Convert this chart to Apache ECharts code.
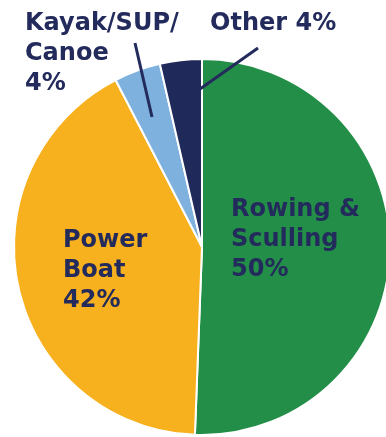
<!DOCTYPE html>
<html>
<head>
<meta charset="utf-8">
<script src="https://cdn.jsdelivr.net/npm/echarts@6/dist/echarts.min.js"></script>
<style>html,body{margin:0;padding:0;background:#fff}#c{width:386px;height:437px}</style>
</head>
<body>
<div id="c"></div>
<script>
const categories = ['Rowing & Sculling', 'Power Boat', 'Kayak/SUP/Canoe', 'Other'];
const values = [50.6, 41.8, 4.0, 3.6];
const labelTexts = ['Rowing &\nSculling\n50%', 'Power\nBoat\n42%', 'Kayak/SUP/\nCanoe\n4%', 'Other 4%'];
const colors = ['#238E47', '#F7B11E', '#7FB1DF', '#1F2A5A'];

// label anchor (top-left) and leader lines, layout only
const labelPos = [[231, 195], [63, 226], [25, 9], [210, 9]];
const leaderLines = [[[135, 43], [152, 117]], [[258, 48], [200, 89]]];

const chart = echarts.init(document.getElementById('c'), null, {renderer: 'canvas'});
chart.setOption({
  animation: false,
  series: [{
    type: 'pie',
    center: [202, 247],
    radius: 188,
    startAngle: 90,
    clockwise: true,
    avoidLabelOverlap: false,
    itemStyle: {borderColor: '#fff', borderWidth: 2},
    label: {
      show: true,
      position: 'inside',
      color: '#232B5C',
      fontFamily: 'DejaVu Sans',
      fontWeight: 'bold',
      fontSize: 24,
      lineHeight: 30,
      align: 'left',
      overflow: 'none',
      formatter: p => labelTexts[p.dataIndex]
    },
    labelLine: {show: false},
    labelLayout: function (params) {
      const i = params.dataIndex;
      return {x: labelPos[i][0], y: labelPos[i][1], align: 'left', verticalAlign: 'top'};
    },
    data: categories.map((n, i) => ({
      name: n, value: values[i], itemStyle: {color: colors[i]}
    }))
  }],
  graphic: leaderLines.map(l => ({
    type: 'line', z: 100,
    shape: {x1: l[0][0], y1: l[0][1], x2: l[1][0], y2: l[1][1]},
    style: {stroke: '#232B5C', lineWidth: 3}
  }))
});
</script>
</body>
</html>
